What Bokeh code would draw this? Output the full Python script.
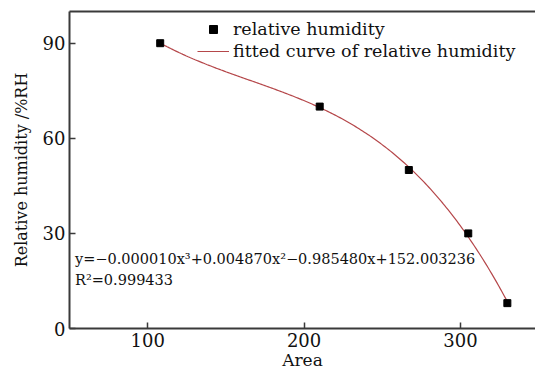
import numpy as np
from bokeh.plotting import figure
from bokeh.models import Range1d, LinearAxis, Legend, LegendItem, Label, FixedTicker
from bokeh.embed import file_html
from bokeh.resources import INLINE

area = [108, 210, 267, 305, 330]
humidity = [90, 70, 50, 30, 8]
x_ticks = [100, 200, 300]
y_ticks = [0, 30, 60, 90]
eq_text = "y=\u22120.000010x\u00b3+0.004870x\u00b2\u22120.985480x+152.003236"
r2_text = "R\u00b2=0.999433"

# cubic least-squares fit of the measured points (the fitted curve)
coef = np.polyfit(area, humidity, 3)
xs = np.linspace(min(area), max(area), 200)
ys = np.polyval(coef, xs)

FONT = "DejaVu Serif"
AX = "#3a3a3a"
TXT = "#111111"

p = figure(width=535, height=375, output_backend="svg", toolbar_location=None,
           x_range=Range1d(50, 348), y_range=Range1d(0, 100),
           min_border_left=69, min_border_right=0, min_border_top=11,
           min_border_bottom=47)
p.outline_line_color = None
p.grid.visible = False
p.background_fill_color = "white"

line_r = p.line(xs, ys, line_color="#b5474a", line_width=1.2)
sq_r = p.scatter(area, humidity, marker="square", size=7, color="black")

for ax in (p.xaxis[0], p.yaxis[0]):
    ax.axis_line_color = AX
    ax.axis_line_width = 2
    ax.major_tick_line_color = AX
    ax.major_tick_line_width = 1.5
    ax.major_tick_in = 6
    ax.major_tick_out = 0
    ax.minor_tick_line_color = None
    ax.major_label_text_font = FONT
    ax.major_label_text_font_size = "18px"
    ax.major_label_text_color = TXT
    ax.axis_label_text_font = FONT
    ax.axis_label_text_font_size = "17px"
    ax.axis_label_text_font_style = "normal"
    ax.axis_label_text_color = TXT
    ax.major_label_standoff = 4

p.yaxis.axis_label_text_font_size = "16px"
p.xaxis.ticker = FixedTicker(ticks=x_ticks)
p.yaxis.ticker = FixedTicker(ticks=y_ticks)
p.xaxis.axis_label = "Area"
p.yaxis.axis_label = "Relative humidity /%RH"
p.xaxis.axis_label_standoff = 0
p.yaxis.axis_label_standoff = 9

top = LinearAxis(axis_line_color=AX, axis_line_width=2, major_tick_line_color=None,
                 minor_tick_line_color=None, major_label_text_font_size="0px",
                 ticker=FixedTicker(ticks=[]))
p.add_layout(top, "above")

legend = Legend(items=[LegendItem(label="relative humidity", renderers=[sq_r]),
                       LegendItem(label="fitted curve of relative humidity", renderers=[line_r])],
                location=(128, 267), border_line_color=None, background_fill_alpha=0,
                label_text_font=FONT, label_text_font_size="17.5px", label_text_color=TXT,
                glyph_width=32, glyph_height=20, label_height=20, spacing=2,
                label_standoff=4, padding=0, margin=0)
p.add_layout(legend)

p.add_layout(Label(x=53.5, y=22, text=eq_text, text_font=FONT, text_font_size="14.5px",
                   text_baseline="middle", text_color=TXT))
p.add_layout(Label(x=53.5, y=15.4, text=r2_text, text_font=FONT, text_font_size="14.5px",
                   text_baseline="middle", text_color=TXT))

open("out.html", "w").write(file_html(p, INLINE))
